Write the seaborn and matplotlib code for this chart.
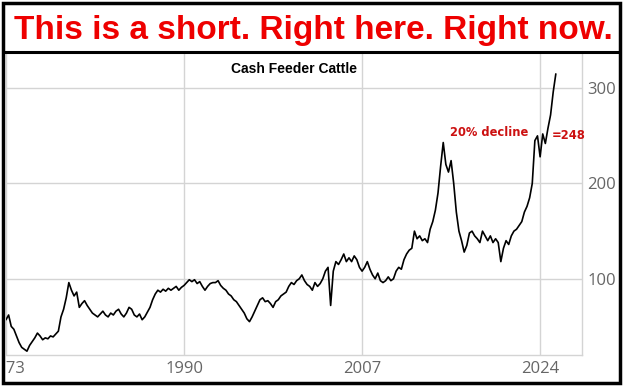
import numpy as np
import pandas as pd
import matplotlib
matplotlib.use("Agg")
import matplotlib.pyplot as plt
from matplotlib.patches import Rectangle
from matplotlib.lines import Line2D
import seaborn as sns

# Quarterly readings of the cash feeder cattle price, 1973 Q1 .. 2025 Q3
prices = [
    57, 62, 50, 47,      # 1973
    40, 33, 28, 26,      # 1974
    24, 30, 34, 38,      # 1975
    43, 40, 36, 38,      # 1976
    37, 40, 39, 42,      # 1977
    45, 60, 68, 80,      # 1978
    96, 88, 82, 86,      # 1979
    70, 74, 77, 72,      # 1980
    68, 64, 62, 60,      # 1981
    63, 66, 62, 60,      # 1982
    64, 62, 66, 68,      # 1983
    63, 60, 64, 70,      # 1984
    68, 62, 60, 63,      # 1985
    57, 60, 65, 70,      # 1986
    78, 84, 88, 86,      # 1987
    89, 87, 90, 88,      # 1988
    90, 92, 88, 91,      # 1989
    93, 96, 99, 97,      # 1990
    99, 95, 97, 92,      # 1991
    88, 92, 95, 96,      # 1992
    96, 98, 93, 90,      # 1993
    88, 84, 82, 78,      # 1994
    76, 72, 68, 64,      # 1995
    58, 55, 60, 66,      # 1996
    72, 78, 80, 76,      # 1997
    77, 74, 70, 76,      # 1998
    78, 82, 84, 86,      # 1999
    92, 96, 94, 98,      # 2000
    100, 104, 98, 94,    # 2001
    92, 88, 96, 92,      # 2002
    95, 100, 108, 112,   # 2003
    72, 108, 118, 115,   # 2004
    120, 126, 118, 122,  # 2005
    118, 124, 120, 112,  # 2006
    108, 112, 118, 110,  # 2007
    104, 100, 106, 98,   # 2008
    96, 98, 102, 98,     # 2009
    100, 108, 112, 110,  # 2010
    120, 126, 130, 132,  # 2011
    150, 142, 145, 140,  # 2012
    142, 138, 152, 160,  # 2013
    172, 190, 218, 243,  # 2014
    220, 212, 224, 200,  # 2015
    170, 150, 140, 128,  # 2016
    135, 148, 150, 145,  # 2017
    142, 138, 150, 145,  # 2018
    140, 145, 138, 142,  # 2019
    138, 118, 132, 140,  # 2020
    136, 145, 150, 152,  # 2021
    156, 160, 170, 176,  # 2022
    185, 200, 245, 250,  # 2023
    228, 252, 242, 258,  # 2024
    272, 296, 315,       # 2025
]
years = 1973 + np.arange(len(prices)) / 4

x_ticks = [1973, 1990, 2007, 2024]
x_labels = ["1973", "1990", "2007", "2024"]
y_ticks = [100, 200, 300]

df = pd.DataFrame({"year": years, "price": prices})

sns.set_style("white")
fig = plt.figure(figsize=(6.26, 3.87), dpi=100)
ax = fig.add_axes([6 / 626, 1 - 355 / 387, 576 / 626, 303 / 387])

sns.lineplot(data=df, x="year", y="price", color="black", linewidth=1.2, ax=ax)

ax.set_xlim(1973, 2028)
ax.set_ylim(20, 338)
ax.set_xticks(x_ticks)
ax.set_xticklabels(x_labels)
ax.set_yticks(y_ticks)
ax.yaxis.tick_right()
ax.grid(True, color="#d4d4d4", linewidth=1)
ax.set_axisbelow(True)
ax.tick_params(length=0, labelsize=12, labelcolor="#666666", pad=4)
for lbl in ax.get_xticklabels() + ax.get_yticklabels():
    lbl.set_fontfamily("Open Sans")
ax.set_xlabel("")
ax.set_ylabel("")
for side in ["top", "left"]:
    ax.spines[side].set_visible(False)
for side in ["right", "bottom"]:
    ax.spines[side].set_color("#d4d4d4")
    ax.spines[side].set_linewidth(1)

ax.set_title("Cash Feeder Cattle", fontsize=10, fontweight="bold", color="black",
             fontfamily="Liberation Sans", y=0.93, pad=0)

ax.text(2015.4, 253, "20% decline", color="#cc1111", fontsize=8.3,
        fontweight="bold", va="center", ha="left")
ax.text(2025.1, 250, "=248", color="#cc1111", fontsize=8.3,
        fontweight="bold", va="center", ha="left")

# headline box
fig.text(0.5, 1 - 30 / 387, "This is a short. Right here. Right now.",
         color="#ee0000", fontsize=24, fontweight="bold",
         fontfamily="Liberation Sans", ha="center", va="center")

# hide the left part of the first year label like the cropped original
fig.add_artist(Rectangle((0, 0), 5.5 / 626, 1, transform=fig.transFigure,
                         facecolor="white", edgecolor="none", zorder=5))
fig.add_artist(Line2D([3 / 626, 620 / 626], [1 - 52 / 387, 1 - 52 / 387],
                      transform=fig.transFigure, color="black", lw=2.2, zorder=6))
fig.add_artist(Rectangle((3 / 626, 4 / 387), 617 / 626, 380 / 387,
                         transform=fig.transFigure, fill=False,
                         edgecolor="black", lw=2.5, zorder=6))

fig.savefig("out.png", dpi=100)
